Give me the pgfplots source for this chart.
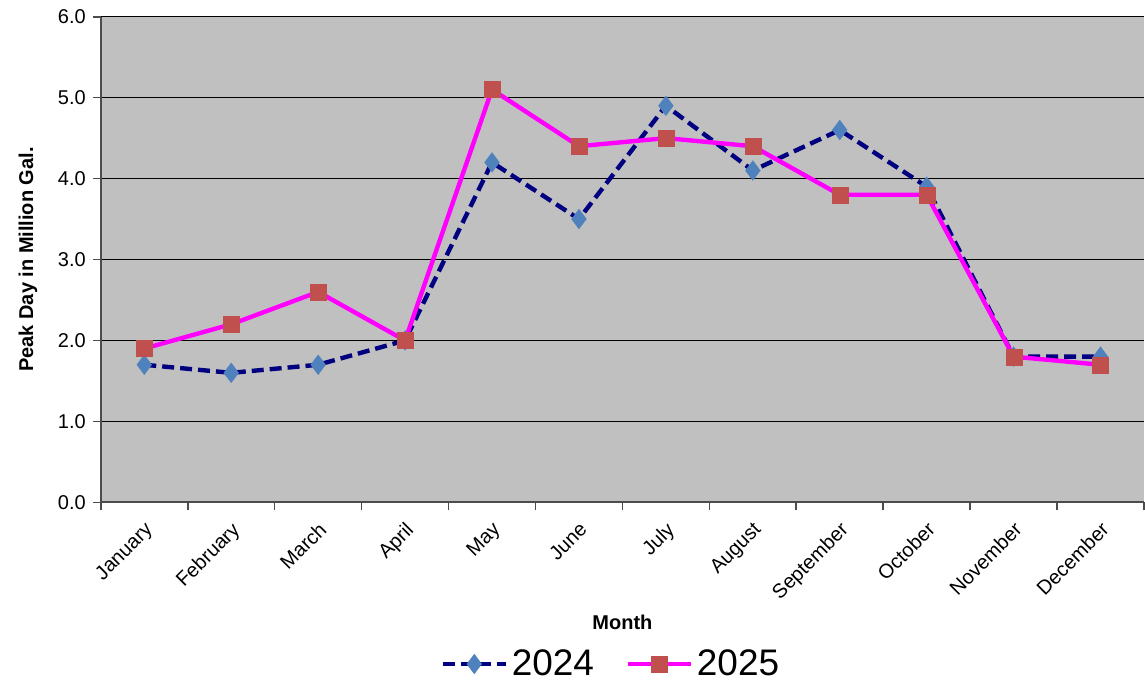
\documentclass[border=0pt]{standalone}
\usepackage{pgfplots}
\pgfplotsset{compat=1.18}
\usepackage{fontspec}
\setmainfont{Liberation Sans}
\definecolor{plotbg}{HTML}{C0C0C0}
\definecolor{navy}{HTML}{000080}
\definecolor{dblue}{HTML}{4F81BD}
\definecolor{dred}{HTML}{C0504D}
\definecolor{pink}{HTML}{FF00FF}
\begin{document}
\begin{tikzpicture}
\begin{axis}[
    scale only axis,
    width=522pt, height=243pt,
    xmin=-0.5, xmax=11.5,
    ymin=0, ymax=6,
    axis background/.style={fill=plotbg},
    axis x line*=bottom, axis y line*=left,
    axis line style={draw=black!70, line width=1pt},
    xtick={0,...,11},
    xticklabels={January,February,March,April,May,June,July,August,September,October,November,December},
    major x tick style={draw=none},
    minor xtick={-0.5,0.5,...,11.5},
    minor x tick style={draw=black!70, line width=0.8pt},
    xtick align=outside, ytick align=outside,
    minor tick length=4pt, major tick length=4pt,
    x tick label style={rotate=45, anchor=north east, font=\fontsize{10}{12}\selectfont, yshift=0pt, xshift=-0.5pt},
    ytick={0,1,...,6},
    yticklabel style={font=\fontsize{10}{12}\selectfont},
    y tick style={draw=black!70, line width=0.8pt},
    /pgf/number format/assume math mode=true,
    yticklabel={\pgfmathprintnumber[fixed,fixed zerofill,precision=1]{\tick}},
    ymajorgrids, grid style={black, line width=0.6pt},
    ylabel={\bfseries Peak Day in Million Gal.},
    ylabel style={font=\fontsize{10}{12}\selectfont, yshift=3.5pt},
    xlabel={\bfseries Month},
    xlabel style={font=\fontsize{10}{12}\selectfont, yshift=2.5pt},
    legend style={at={(0.49,-0.286)}, anchor=north, legend columns=2, draw=none, fill=none,
        font=\fontsize{18.5}{20}\selectfont, /tikz/every even column/.append style={column sep=14pt}},
    legend image code/.code={\draw[#1] (0cm,0cm) -- (1.1cm,0cm); \draw[#1, solid] plot coordinates {(0.55cm,0cm)};},
    clip=false,
]
\addplot[navy, line width=2.2pt, dash pattern=on 6pt off 3pt, mark=diamond*, mark size=5pt,
    mark options={solid, fill=dblue, draw=dblue, line width=0.1pt}]
    coordinates {(0,1.7) (1,1.6) (2,1.7) (3,2.0) (4,4.2) (5,3.5) (6,4.9) (7,4.1) (8,4.6) (9,3.9) (10,1.8) (11,1.8)};
\addplot[pink, line width=2.2pt, mark=square*, mark size=4pt,
    mark options={solid, fill=dred, draw=dred, line width=0.1pt}]
    coordinates {(0,1.9) (1,2.2) (2,2.6) (3,2.0) (4,5.1) (5,4.4) (6,4.5) (7,4.4) (8,3.8) (9,3.8) (10,1.8) (11,1.7)};
\legend{2024,2025}
\end{axis}
\path (current bounding box.north west) ++(-6pt,1.5pt) coordinate (padleft);
\path (padleft) -- (current bounding box.south east);
\end{tikzpicture}
\end{document}
